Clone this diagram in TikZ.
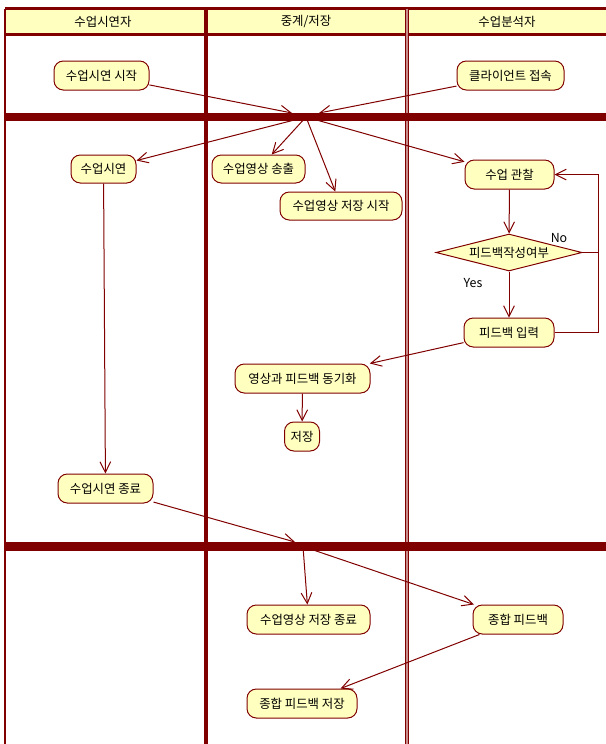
\documentclass[tikz,border=0pt]{standalone}
\usepackage{fontspec}
\setmainfont{Noto Sans CJK KR}
\usetikzlibrary{arrows.meta,shapes.geometric}

\definecolor{lanered}{RGB}{128,0,0}
\definecolor{actfill}{RGB}{255,255,192}

\tikzset{every picture/.style={line width=0.75pt}}

\begin{document}
\begin{tikzpicture}[x=0.75pt,y=0.75pt,yscale=-1,xscale=1,
	act/.style={draw=lanered, fill=actfill, rounded corners=7pt, minimum height=21.75pt, inner sep=0pt, font=\fontsize{9.3}{11}\selectfont},
	choice/.style={draw=lanered, fill=actfill, diamond, aspect=3.95, inner sep=0pt, minimum width=109.5pt, minimum height=27.75pt, font=\fontsize{9.3}{11}\selectfont},
	flow/.style={draw=lanered, -{Straight Barb[length=8pt,width=8pt]}},
	link/.style={draw=lanered},
	lbl/.style={font=\fontsize{9.3}{11}\selectfont}]
	\useasboundingbox (0,0) rectangle (606,744);

	%Shape: Header band
	\fill [actfill] (5,8.5) rectangle (606,34.5);
	\draw [lanered, line width=2.25pt] (5,8.5) -- (606,8.5);
	\draw [lanered, line width=1.9pt] (5,34.5) -- (606,34.5);
	%Shape: Lane lines
	\draw [lanered, line width=1.5pt] (5,8.5) -- (5,744);
	\draw [lanered, line width=2.6pt] (206,8.5) -- (206,744);
	\draw [lanered, line width=1.4pt, double=lanered!45, double distance=0.8pt] (407,8.5) -- (407,744);

	% Text Node
	\node [lbl] (hdrdemo) at (103,21.5) {수업시연자};
	% Text Node
	\node [lbl] (hdrrelay) at (306,21.5) {중계/저장};
	% Text Node
	\node [lbl] (hdranal) at (507,21.5) {수업분석자};

	%Shape: Sync bars
	\fill [lanered] (5,113) rectangle (606,121);
	\fill [lanered] (5,542) rectangle (606,551);
	\coordinate (join1l) at (292,113);
	\coordinate (join1r) at (319,113);
	\coordinate (fork1) at (306,117);
	\coordinate (join2) at (295,542);
	\coordinate (fork2) at (303,546.5);

	% Activities
	\node [act, minimum width=71.25pt] (start) at (101.5,75.5) {수업시연 시작};
	\node [act, minimum width=80.25pt] (client) at (510.5,75.5) {클라이언트 접속};
	\node [act, minimum width=48.75pt, minimum height=21pt] (demo) at (103.5,169) {수업시연};
	\node [act, minimum width=69.75pt, minimum height=21pt] (send) at (258.5,169) {수업영상 송출};
	\node [act, minimum width=91.5pt, minimum height=21pt] (recstart) at (341,206) {수업영상 저장 시작};
	\node [act, minimum width=66.75pt] (observe) at (509.5,174.5) {수업 관찰};
	\node [choice] (decide) at (509,252.5) {피드백작성여부};
	\node [act, minimum width=67.5pt] (input) at (509,332.5) {피드백 입력};
	\node [act, minimum width=101.25pt] (sync) at (302.5,378.5) {영상과 피드백 동기화};
	\node [act, minimum width=26.25pt] (save) at (302,436.5) {저장};
	\node [act, minimum width=71.25pt] (demoend) at (105.5,488.5) {수업시연 종료};
	\node [act, minimum width=92.25pt] (recend) at (308.5,619.5) {수업영상 저장 종료};
	\node [act, minimum width=67.5pt] (total) at (518,619.5) {종합 피드백};
	\node [act, minimum width=82.5pt] (totalsave) at (302,703.5) {종합 피드백 저장};

	% Text Node
	\node [lbl] (lblno) at (559,238) {No};
	% Text Node
	\node [lbl] (lblyes) at (473,283) {Yes};

	% Connectors
	\draw [flow] (start) -- (join1l);
	\draw [flow] (client) -- (join1r);
	\draw [flow] (fork1) -- (demo);
	\draw [flow] (fork1) -- (send);
	\draw [flow] (fork1) -- (recstart);
	\draw [flow] (fork1) -- (observe);
	\draw [flow] (observe) -- (decide);
	\draw [flow] (decide) -- (input);
	\coordinate (loop) at (598,252.5);
	\draw [flow] (decide.east) -- (loop) |- (observe.east);
	\draw [link] (input.east) -| (loop);
	\draw [flow] (input) -- (sync);
	\draw [flow] (sync) -- (save);
	\draw [flow] (demo) -- (demoend);
	\draw [flow] (demoend) -- (join2);
	\draw [flow] (fork2) -- (recend);
	\draw [flow] (fork2) -- (total);
	\draw [flow] (total) -- (totalsave);

\end{tikzpicture}
\end{document}
